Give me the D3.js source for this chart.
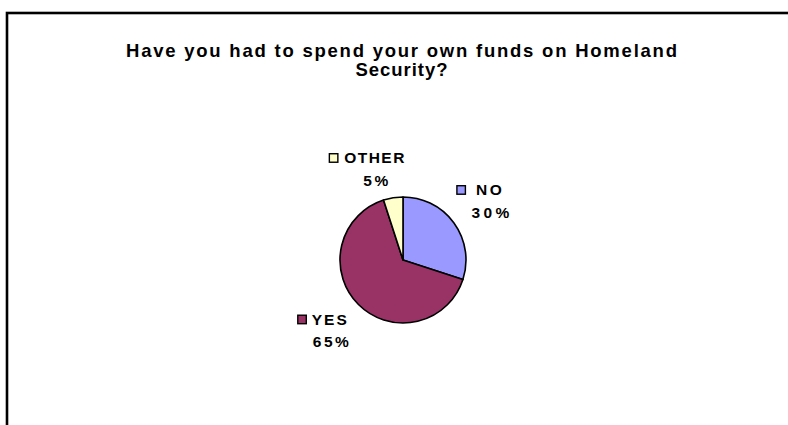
<!DOCTYPE html>
<html>
<head>
<meta charset="utf-8">
<script src="https://cdn.jsdelivr.net/npm/d3@7"></script>
<style>
  html, body { margin: 0; padding: 0; background: #ffffff; }
  svg { display: block; }
  text { font-family: "Liberation Sans", Arial, sans-serif; font-weight: bold; fill: #000; }
</style>
</head>
<body>
<svg id="chart" width="788" height="425"></svg>
<script>
// Survey answers and their shares (percent)
const categories = ["NO", "YES", "OTHER"];
const values = [30, 65, 5];
const sliceColors = ["#9999FF", "#993366", "#FFFFCC"];
const titleLines = ["Have you had to spend your own funds on Homeland", "Security?"];

// Layout
const W = 788, H = 425;
const center = { x: 403, y: 260 };
const radius = 63;
const labelRadius = 100;
// per-slice nudges of the label block away from the arc centroid
const labelNudge = [[5, -6], [-3, -6], [-13, 2]];
// rendered widths of the spaced-out label text
const nameWidths = [26, 35, 60];
const pctWidths = [38, 36, 25];
const keyGaps = [10, 5, 6];

const svg = d3.select("#chart");

// chart frame (only its top and left edges fall inside the view)
svg.append("rect")
  .attr("x", 7).attr("y", 13)
  .attr("width", W + 20).attr("height", H + 20)
  .attr("fill", "none")
  .attr("stroke", "#000")
  .attr("stroke-width", 2.6);

// title
const titleX = 401.5;
svg.append("text")
  .attr("x", titleX).attr("y", 57)
  .attr("text-anchor", "middle")
  .attr("font-size", 18.5)
  .attr("textLength", 551)
  .attr("lengthAdjust", "spacing")
  .text(titleLines[0]);
svg.append("text")
  .attr("x", titleX).attr("y", 76)
  .attr("text-anchor", "middle")
  .attr("font-size", 18.5)
  .attr("textLength", 92)
  .attr("lengthAdjust", "spacing")
  .text(titleLines[1]);

// pie
const pie = d3.pie().sort(null).value(d => d)(values);
const arc = d3.arc().innerRadius(0).outerRadius(radius);
const labelArc = d3.arc().innerRadius(labelRadius).outerRadius(labelRadius);

const g = svg.append("g").attr("transform", `translate(${center.x},${center.y})`);
g.selectAll("path.slice")
  .data(pie)
  .join("path")
  .attr("class", "slice")
  .attr("d", arc)
  .attr("fill", (d, i) => sliceColors[i])
  .attr("stroke", "#000")
  .attr("stroke-width", 1.6)
  .attr("stroke-linejoin", "round");

// labels: legend key + category on the first line, percentage below
const labels = g.selectAll("g.label")
  .data(pie)
  .join("g")
  .attr("class", "label")
  .attr("transform", (d, i) => {
    const [cx, cy] = labelArc.centroid(d);
    return `translate(${cx + labelNudge[i][0]},${cy + labelNudge[i][1]})`;
  });

labels.append("rect")
  .attr("x", (d, i) => -nameWidths[i] / 2 - keyGaps[i] - 9)
  .attr("y", -9.5)
  .attr("width", 8.5).attr("height", 8.5)
  .attr("fill", (d, i) => sliceColors[i])
  .attr("stroke", "#000")
  .attr("stroke-width", 1.4);

labels.append("text")
  .attr("x", 0).attr("y", 0)
  .attr("text-anchor", "middle")
  .attr("font-size", 15.5)
  .attr("textLength", (d, i) => nameWidths[i])
  .attr("lengthAdjust", "spacing")
  .text((d, i) => categories[i]);

labels.append("text")
  .attr("x", 1.5).attr("y", 22.5)
  .attr("text-anchor", "middle")
  .attr("font-size", 15.5)
  .attr("textLength", (d, i) => pctWidths[i])
  .attr("lengthAdjust", "spacing")
  .text(d => d.value + "%");
</script>
</body>
</html>
